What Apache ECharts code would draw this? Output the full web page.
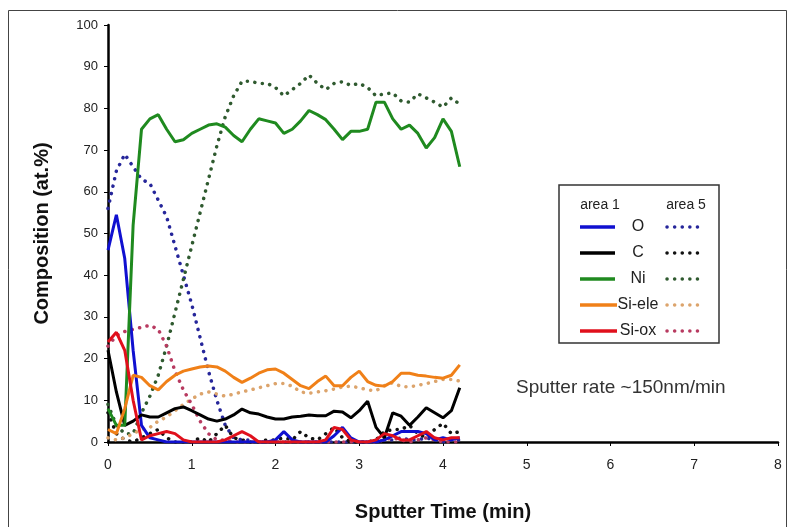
<!DOCTYPE html>
<html>
<head>
<meta charset="utf-8">
<script src="https://cdn.jsdelivr.net/npm/echarts@6/dist/echarts.min.js"></script>
<style>
html,body{margin:0;padding:0;background:#fff;}
#chart{width:791px;height:527px;}
</style>
</head>
<body>
<div id="chart"></div>
<script>
// Sputter time (min)
var times = [0,0.1,0.2,0.3,0.4,0.5,0.6,0.7,0.8,0.9,1.0,1.1,1.2,1.3,1.4,1.5,1.6,1.7,1.8,1.9,2.0,2.1,2.2,2.3,2.4,2.5,2.6,2.7,2.8,2.9,3.0,3.1,3.2,3.3,3.4,3.5,3.6,3.7,3.8,3.9,4.0,4.1,4.2];

// area 1 (solid)
var oArea1    = [46,54.5,44,22,4,1,0.5,0,0,0,0,0,0,0,0,0,0,0,0,0,0.5,2.5,0.5,0,0,0,0,1.5,3.5,1,0,0,0,0.5,1.5,2.5,2.5,2.5,2,0.5,1,0.5,1];
var cArea1    = [22,12,4,5,6.5,6,6,7,8,8.4,7.5,6.5,5.5,5,5.5,6.5,7.9,7,6.7,6,5.5,5.5,6,6.2,6.5,6.3,6.3,7.4,7.2,5.8,7.5,9.8,3.5,1,7,6.2,4,6,8.2,7,5.8,7.5,13];
var niArea1   = [8,4,4,52,75,77.5,78.5,75,72,72.5,74,75,76,76.3,75.5,73.5,72,75,77.5,77,76.5,74,75,77,79.5,78.5,77.3,75,72.5,74.5,74.5,75,81.5,81.5,77.5,75,76,74,70.5,73,77.5,74.5,66];
var siEleA1   = [3,2,8,16,15.5,13.5,12.5,14.5,16,17,17.5,18,18.2,18,17,15.5,14.3,15.3,16.5,17.3,17.5,16.5,15,13.5,12.8,14.5,15.8,13.5,13.5,15.5,17,14.5,13.6,13.4,14.5,16.5,16.5,16,15.8,15.5,15.3,16,18.5];
var siOxA1    = [24,26.3,22,10,0.5,1.5,2,2.5,2,0.5,0,0,0,0,0.5,1.5,2.5,1.5,0,0,0,0,0,0,0,0,0.5,3.5,3,0.5,0,0,0.5,2,1.5,0.5,0.5,1.5,2.5,1,0.5,1,1];

// area 5 (dotted)
var oArea5    = [56,65,69,66,63,62,58,54,47,40,33,25,17,10,4,1,0.5,0.5,0,0,0,0,0,0,0,0,0,0,0,0,0,0,0,0.5,0.5,1,0.5,0.5,1,0.5,0,0.5,0.5];
var cArea5    = [7,2,0.5,0,1,2,3,1,0,0,0,1,0,2,4,1,0.5,0,0,0.5,0.5,1,0.5,2.5,1,0.5,2,3.5,1,0,0,0,0.5,2.5,3,3,4,2,1,3,4.5,2,2.5];
var niArea5   = [9,4,2,2,7,11,16,23,31,39,47,55,63,71,78,83,86.5,86.5,86,86,85,83,84.5,86,88,86,84.5,86,86.4,85.5,86,85,83,83.5,83.7,81.8,81.5,83.5,82.5,81.5,80.3,82.5,81];
var siEleA5   = [1,0.5,1,2,3,3.5,5,6,7.5,9,10.3,11.5,12,11.5,11,11.5,12,12.5,13,13.5,14,14,13.4,12,11.7,12,12.3,12.7,13.2,13.4,13,12.5,12.3,13.5,14.2,13.3,13.2,13.6,14,14.5,15,15,14.6];
var siOxA5    = [23,25.5,26.5,27,27.5,28,27,23,17,12.5,9,5,2,0.5,0.5,0,0,0,0,0,0,0,0,0,0,0,0,0,0,0,0,0,0,0.5,1,0.5,0,0.5,1,0.5,0,0,0];

var yTicks = [0,10,20,30,40,50,60,70,80,90,100];
var xTicks = [0,1,2,3,4,5,6,7,8];

var elemNames = ['O','C','Ni','Si-ele','Si-ox'];
var solidColors  = ['#1010d0','#000000','#1f8a1f','#f08018','#e0101c'];
var dottedColors = ['#26269a','#111111','#2f5a2f','#dca46c','#b83a60'];

function pairs(arr){ return times.map(function(t,i){ return [t, arr[i]]; }); }

var area1 = [oArea1,cArea1,niArea1,siEleA1,siOxA1];
var area5 = [oArea5,cArea5,niArea5,siEleA5,siOxA5];

var series = [];
area5.forEach(function(arr,i){
  series.push({
    name: elemNames[i]+' area 5', type:'line', data: pairs(arr), symbol:'none', silent:true,
    lineStyle:{ color: dottedColors[i], width:3.5, type:[0.1,7.5], cap:'round' },
    z: 2
  });
});
area1.forEach(function(arr,i){
  series.push({
    name: elemNames[i]+' area 1', type:'line', data: pairs(arr), symbol:'none', silent:true,
    lineStyle:{ color: solidColors[i], width:3 },
    z: 3
  });
});

// legend drawn as graphics
var lg = [];
lg.push({type:'rect', shape:{x:559,y:185,width:160,height:158}, style:{fill:'#fff', stroke:'#333', lineWidth:1.5}, z:10});
lg.push({type:'text', style:{text:'area 1', x:600, y:205, fill:'#222', font:'14px "Liberation Sans", Arial', textAlign:'center', textVerticalAlign:'middle'}, z:11});
lg.push({type:'text', style:{text:'area 5', x:686, y:205, fill:'#222', font:'14px "Liberation Sans", Arial', textAlign:'center', textVerticalAlign:'middle'}, z:11});
var rowsY = [227,253,279,305,331];
elemNames.forEach(function(n,i){
  var y = rowsY[i];
  lg.push({type:'line', shape:{x1:580,y1:y,x2:(i>=3?617:615),y2:y}, style:{stroke:solidColors[i], lineWidth:3.5}, z:11});
  lg.push({type:'line', shape:{x1:667,y1:y,x2:698,y2:y}, style:{stroke:dottedColors[i], lineWidth:3.5, lineDash:[0.1,7.5], lineCap:'round'}, z:11});
  lg.push({type:'text', style:{text:n, x:638, y:y, fill:'#222', font:'16px "Liberation Sans", Arial', textAlign:'center', textVerticalAlign:'middle'}, z:12});
});

var chart = echarts.init(document.getElementById('chart'), null, {renderer:'canvas'});
chart.setOption({
  animation:false,
  backgroundColor:'#fff',
  grid:{left:108, right:13, top:25, bottom:84, containLabel:false},
  xAxis:{
    type:'value', min:0, max:8, interval:1,
    name:'Sputter Time (min)', nameLocation:'middle', nameGap:60,
    nameTextStyle:{fontFamily:'"Liberation Sans", Arial', fontWeight:'bold', fontSize:20, color:'#111'},
    axisLine:{show:true, onZero:false, lineStyle:{color:'#000', width:2.5}},
    axisTick:{show:true, length:4, lineStyle:{color:'#000', width:1}},
    axisLabel:{margin:16, fontSize:14, color:'#222', fontFamily:'"Liberation Sans", Arial',
      formatter:function(v){ return xTicks.indexOf(v)>=0 ? String(v) : ''; }},
    splitLine:{show:false}
  },
  yAxis:{
    type:'value', min:0, max:100, interval:10,
    name:'Composition (at.%)', nameLocation:'middle', nameGap:56,
    nameTextStyle:{fontFamily:'"Liberation Sans", Arial', fontWeight:'bold', fontSize:20, color:'#111'},
    axisLine:{show:true, lineStyle:{color:'#000', width:2.5}},
    axisTick:{show:true, length:4, lineStyle:{color:'#000', width:1}},
    axisLabel:{margin:10, fontSize:13, color:'#222', fontFamily:'"Liberation Sans", Arial',
      formatter:function(v){ return yTicks.indexOf(v)>=0 ? String(v) : ''; }},
    splitLine:{show:false}
  },
  series: series,
  graphic: [
    {type:'rect', shape:{x:8.5,y:10.5,width:778,height:530}, style:{fill:'none', stroke:'#444', lineWidth:1}, z:0, silent:true},
    {type:'text', style:{text:'Sputter rate ~150nm/min', x:516, y:388, fill:'#333', font:'19px "Liberation Sans", Arial', textVerticalAlign:'middle'}, z:11}
  ].concat(lg)
});
</script>
</body>
</html>
